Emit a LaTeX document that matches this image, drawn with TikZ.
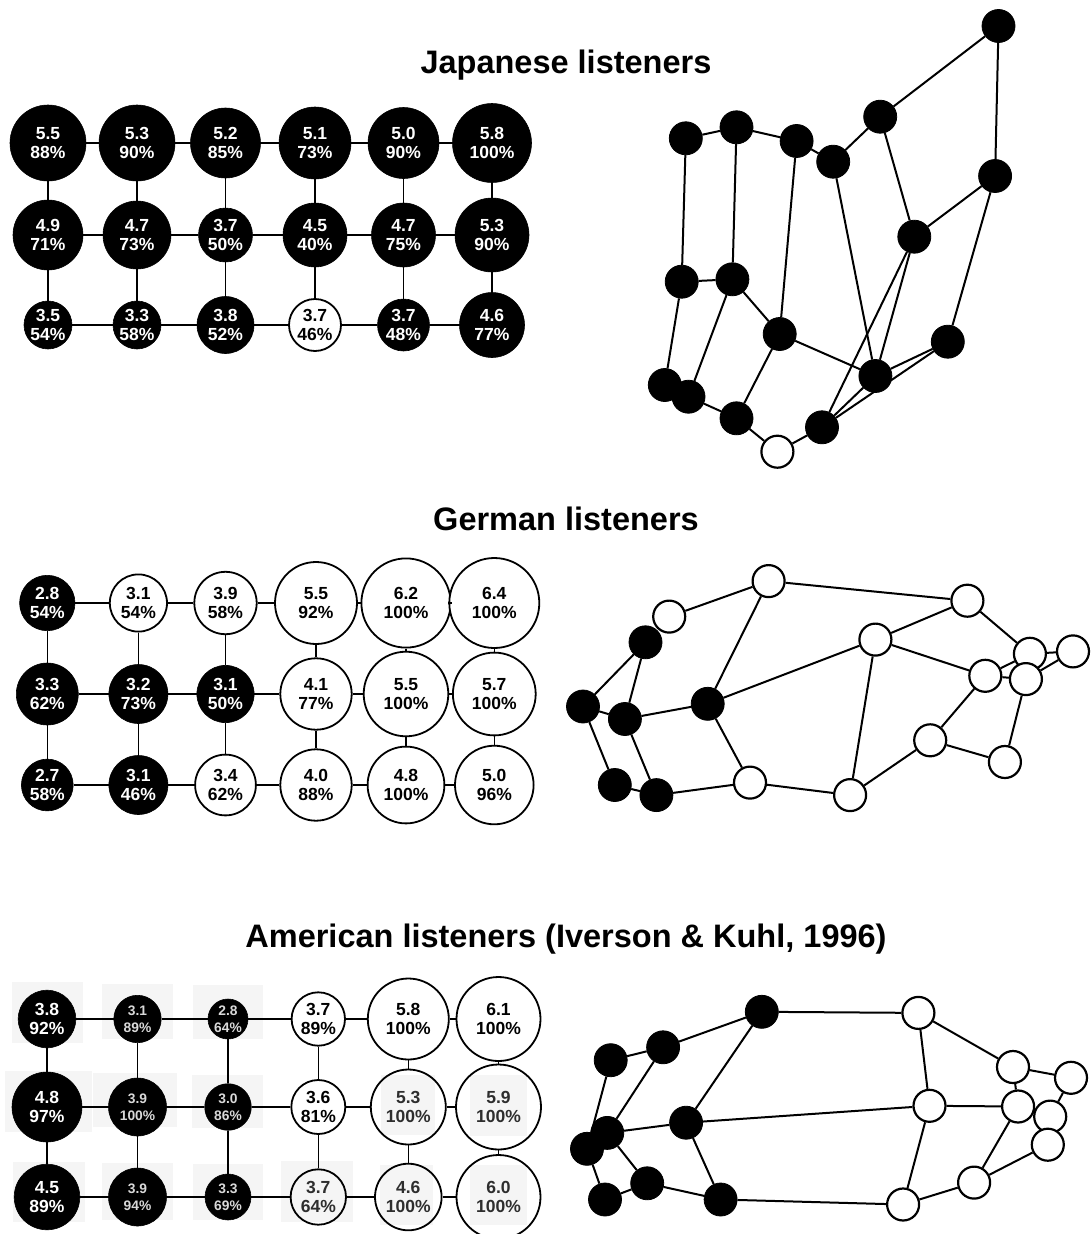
\documentclass[tikz,border=0pt]{standalone}
\usepackage{fontspec}
\setmainfont{Liberation Sans}
\usetikzlibrary{backgrounds}
\tikzset{
  gb/.style={circle, fill=black, draw=black, inner sep=0pt, line width=0.6pt},
  gw/.style={circle, fill=white, draw=black, inner sep=0pt, line width=1.8pt},
  gp/.style={circle, draw=black, inner sep=0pt, line width=1.8pt},
  tw/.style={text=white, align=center, inner sep=0pt, font=\bfseries\fontsize{17.5}{18.5}\selectfont},
  tk/.style={text=black, align=center, inner sep=0pt, font=\bfseries\fontsize{17.5}{18.5}\selectfont},
  tg/.style={text=black!82, align=center, inner sep=0pt, font=\bfseries\fontsize{17.5}{18.5}\selectfont},
  ts/.style={text=black!15, align=center, inner sep=0pt, font=\bfseries\fontsize{13.8}{17.5}\selectfont},
  gl/.style={line width=1.3pt},
  glt/.style={line width=2.2pt},
  ge/.style={line width=2pt},
  mb/.style={circle, fill=black, draw=black, inner sep=0pt, minimum size=33pt, line width=0.8pt},
  mw/.style={circle, fill=white, draw=black, inner sep=0pt, minimum size=32pt, line width=2.2pt},
  ttl/.style={anchor=base, inner sep=0pt, font=\bfseries\fontsize{32.5}{38}\selectfont},
  patch/.style={fill=black!4},
}
\newcommand\gnode[8]{\node[#1, minimum size={2*#5}, label={[#6]center:{#7\\#8}}] (#2) at (#3,#4) {};}
\begin{document}
\begin{tikzpicture}[x=1pt, y=-1pt]
\begin{pgfonlayer}{background}
\fill[white] (0,0) rectangle (1090,1234);
\end{pgfonlayer}
\useasboundingbox (0,0) rectangle (1090,1234);

% ---------- titles
\node[ttl] (t1) at (566,73) {Japanese listeners};
\node[ttl] (t2) at (566,530) {German listeners};
\node[ttl] (t3) at (566,947) {American listeners (Iverson \& Kuhl, 1996)};

% ---------- Japanese grid
\gnode{gb}{j11}{48}{143}{38}{tw}{5.5}{88\%}
\gnode{gb}{j12}{137}{143}{38}{tw}{5.3}{90\%}
\gnode{gb}{j13}{225.5}{143}{35}{tw}{5.2}{85\%}
\gnode{gb}{j14}{315}{143}{36}{tw}{5.1}{73\%}
\gnode{gb}{j15}{403.5}{143}{35.5}{tw}{5.0}{90\%}
\gnode{gb}{j16}{492}{143}{39.5}{tw}{5.8}{100\%}
\gnode{gb}{j21}{48}{235}{35}{tw}{4.9}{71\%}
\gnode{gb}{j22}{137}{235}{34}{tw}{4.7}{73\%}
\gnode{gb}{j23}{225.5}{235}{27}{tw}{3.7}{50\%}
\gnode{gb}{j24}{315}{235}{32}{tw}{4.5}{40\%}
\gnode{gb}{j25}{403.5}{235}{32}{tw}{4.7}{75\%}
\gnode{gb}{j26}{492}{235}{37}{tw}{5.3}{90\%}
\gnode{gb}{j31}{48}{325}{24}{tw}{3.5}{54\%}
\gnode{gb}{j32}{137}{325}{24}{tw}{3.3}{58\%}
\gnode{gb}{j33}{225.5}{325}{28.5}{tw}{3.8}{52\%}
\gnode{gw}{j34}{315}{325}{26}{tk}{3.7}{46\%}
\gnode{gb}{j35}{403.5}{325}{26}{tw}{3.7}{48\%}
\gnode{gb}{j36}{492}{325}{32.5}{tw}{4.6}{77\%}
\foreach \r in {1,2,3}{\foreach \c [evaluate=\c as \n using int(\c+1)] in {1,...,5}{\draw[gl] (j\r\c)--(j\r\n);}}
\foreach \c in {1,...,6}{\draw[gl] (j1\c)--(j2\c); \draw[gl] (j2\c)--(j3\c);}

% ---------- Japanese graph
\node[mb] (A) at (998.5,26) {};
\node[mb] (B) at (880.2,116.7) {};
\node[mb] (C) at (995.1,176) {};
\node[mb] (D) at (685.8,138.3) {};
\node[mb] (E) at (736.5,127.3) {};
\node[mb] (F) at (796.6,141) {};
\node[mb] (G) at (833.2,161.7) {};
\node[mb] (H) at (914.3,236.7) {};
\node[mb] (I) at (681.7,281.7) {};
\node[mb] (J) at (732.4,279.3) {};
\node[mb] (K) at (779.7,334) {};
\node[mb] (L) at (947.8,341.7) {};
\node[mb] (M) at (875.4,376) {};
\node[mb] (N) at (664.8,385) {};
\node[mb] (O) at (688.5,396.7) {};
\node[mb] (P) at (736.5,418.3) {};
\node[mb] (Q) at (822,427.3) {};
\node[mw] (R) at (777.4,451.7) {};
\begin{pgfonlayer}{background}
\foreach \a/\b in {A/B,A/C,B/G,B/H,D/E,E/F,F/G,D/I,E/J,F/K,G/M,H/C,H/M,H/Q,C/L,L/M,I/J,J/K,I/N,J/O,K/M,K/P,O/P,P/R,R/Q,Q/M,Q/L}
  {\draw[ge] (\a)--(\b);}
\end{pgfonlayer}

% ---------- German grid
\gnode{gb}{g11}{47.3}{603}{27.7}{tw}{2.8}{54\%}
\gnode{gw}{g12}{138.4}{603}{28.6}{tk}{3.1}{54\%}
\gnode{gw}{g13}{225.5}{603}{31.2}{tk}{3.9}{58\%}
\gnode{gw}{g14}{316}{603}{41}{tk}{5.5}{92\%}
\gnode{gw}{g15}{406}{603}{44.6}{tk}{6.2}{100\%}
\gnode{gw}{g16}{494.3}{603}{45}{tk}{6.4}{100\%}
\gnode{gb}{g21}{47.3}{694}{31}{tw}{3.3}{62\%}
\gnode{gb}{g22}{138.4}{694}{29.5}{tw}{3.2}{73\%}
\gnode{gb}{g23}{225.5}{694}{28.6}{tw}{3.1}{50\%}
\gnode{gw}{g24}{316}{694}{35.7}{tk}{4.1}{77\%}
\gnode{gw}{g25}{406}{694}{42.3}{tk}{5.5}{100\%}
\gnode{gw}{g26}{494.3}{694}{41.4}{tk}{5.7}{100\%}
\gnode{gb}{g31}{47.3}{785}{25.9}{tw}{2.7}{58\%}
\gnode{gb}{g32}{138.4}{785}{29.5}{tw}{3.1}{46\%}
\gnode{gw}{g33}{225.5}{785}{30.4}{tk}{3.4}{62\%}
\gnode{gw}{g34}{316}{785}{35.7}{tk}{4.0}{88\%}
\gnode{gw}{g35}{406}{785}{38.4}{tk}{4.8}{100\%}
\gnode{gw}{g36}{494.3}{785}{39.3}{tk}{5.0}{96\%}
\foreach \r in {1,2}{\foreach \c [evaluate=\c as \n using int(\c+1)] in {1,...,5}{\draw[gl] (g\r\c)--(g\r\n);}}
\foreach \c [evaluate=\c as \n using int(\c+1)] in {1,...,5}{\draw[glt] (g3\c)--(g3\n);}
\foreach \c in {1,...,6}{\draw[gl] (g1\c)--(g2\c); \draw[gl] (g2\c)--(g3\c);}

% ---------- German graph
\node[mw] (a1) at (768.6,581.1) {};
\node[mw] (a2) at (967.4,600.7) {};
\node[mw] (a3) at (669.2,616.6) {};
\node[mb] (a4) at (645.5,642.3) {};
\node[mw] (a5) at (875.4,639.6) {};
\node[mw] (a6) at (1029.9,653.8) {};
\node[mw] (a7) at (1073,651.4) {};
\node[mw] (a8) at (985.3,675.8) {};
\node[mw] (a9) at (1025.9,679.1) {};
\node[mb] (a10) at (583,706.5) {};
\node[mb] (a11) at (624.9,719) {};
\node[mb] (a12) at (707.7,703.8) {};
\node[mw] (a13) at (930.2,740.3) {};
\node[mw] (a14) at (1004.9,762) {};
\node[mb] (a15) at (614.8,785) {};
\node[mb] (a16) at (656.4,795.1) {};
\node[mw] (a17) at (750,782.6) {};
\node[mw] (a18) at (850.1,795.1) {};
\begin{pgfonlayer}{background}
\foreach \a/\b in {a3/a1,a1/a2,a1/a12,a2/a5,a2/a6,a5/a8,a5/a12,a5/a18,a6/a7,a6/a8,a7/a9,a8/a9,a8/a13,a9/a14,a13/a14,a13/a18,a17/a18,a12/a17,a12/a11,a4/a10,a4/a11,a10/a11,a10/a15,a11/a16,a15/a16,a16/a17}
  {\draw[ge] (\a)--(\b);}
\end{pgfonlayer}

% ---------- American grid (scan patches first)
\foreach \xa/\ya/\xb/\yb in {11.7/981.7/83.3/1042.7, 101.7/984/173.3/1039, 192.7/985/263/1039,
  5/1071/91.7/1131.7, 93.3/1072.7/176.7/1126.7, 191.7/1075/263/1128,
  12.7/1161.7/85/1221.7, 101.7/1163/173.3/1220, 193/1164/263/1220, 280.7/1161/352.7/1221.7,
  380.7/1075/435/1135, 470/1075/526.7/1136, 380/1165/433.3/1225, 470/1165/526.7/1225}
  {\fill[patch] (\xa,\ya) rectangle (\xb,\yb);}
\gnode{gb}{u11}{47}{1019}{28.8}{tw}{3.8}{92\%}
\gnode{gb}{u12}{137.5}{1019}{23.7}{ts}{3.1}{89\%}
\gnode{gb}{u13}{228}{1019}{20}{ts}{2.8}{64\%}
\gnode{gw}{u14}{318.3}{1019}{26.7}{tk}{3.7}{89\%}
\gnode{gw}{u15}{408.3}{1019}{40.5}{tk}{5.8}{100\%}
\gnode{gw}{u16}{498.5}{1019}{42}{tk}{6.1}{100\%}
\gnode{gb}{u21}{47}{1107}{35}{tw}{4.8}{97\%}
\gnode{gb}{u22}{137.5}{1107}{29}{ts}{3.9}{100\%}
\gnode{gb}{u23}{228}{1107}{23.3}{ts}{3.0}{86\%}
\gnode{gw}{u24}{318.3}{1107}{27}{tk}{3.6}{81\%}
\gnode{gp}{u25}{408.3}{1107}{37.5}{tg}{5.3}{100\%}
\gnode{gp}{u26}{498.5}{1107}{42.5}{tg}{5.9}{100\%}
\gnode{gb}{u31}{47}{1197}{32.8}{tw}{4.5}{89\%}
\gnode{gb}{u32}{137.5}{1197}{29}{ts}{3.9}{94\%}
\gnode{gb}{u33}{228}{1197}{23}{ts}{3.3}{69\%}
\gnode{gp}{u34}{318.3}{1197}{27.7}{tg}{3.7}{64\%}
\gnode{gp}{u35}{408.3}{1197}{33.3}{tg}{4.6}{100\%}
\gnode{gp}{u36}{498.5}{1197}{42}{tg}{6.0}{100\%}
\foreach \r in {1,2,3}{\foreach \c [evaluate=\c as \n using int(\c+1)] in {1,...,5}{\draw[gl] (u\r\c)--(u\r\n);}}
\foreach \c in {1,...,6}{\draw[gl] (u1\c)--(u2\c); \draw[gl] (u2\c)--(u3\c);}

% ---------- American graph
\node[mb] (b1) at (761.8,1011.8) {};
\node[mw] (b2) at (918.4,1012.9) {};
\node[mb] (b3) at (663.1,1047.3) {};
\node[mb] (b4) at (610.7,1060.2) {};
\node[mw] (b5) at (1013,1067) {};
\node[mw] (b6) at (1071,1077.8) {};
\node[mw] (b7) at (929.5,1105.8) {};
\node[mw] (b8) at (1018.1,1106.5) {};
\node[mw] (b9) at (1050.2,1116.6) {};
\node[mb] (b10) at (686.1,1122.7) {};
\node[mb] (b11) at (607.3,1132.9) {};
\node[mb] (b12) at (587,1148.8) {};
\node[mw] (b13) at (1047.8,1144.7) {};
\node[mb] (b14) at (647.2,1183.3) {};
\node[mw] (b15) at (974.1,1182.6) {};
\node[mb] (b16) at (605,1199.5) {};
\node[mb] (b17) at (720.6,1199.5) {};
\node[mw] (b18) at (903.1,1204.5) {};
\begin{pgfonlayer}{background}
\foreach \a/\b in {b1/b2,b1/b3,b1/b10,b3/b4,b3/b11,b4/b12,b11/b10,b10/b7,b10/b17,b11/b14,b12/b16,b16/b14,b14/b17,b17/b18,b2/b7,b2/b5,b5/b6,b5/b8,b7/b8,b6/b9,b7/b18,b8/b15,b13/b15,b15/b18}
  {\draw[ge] (\a)--(\b);}
\end{pgfonlayer}
\end{tikzpicture}
\end{document}
